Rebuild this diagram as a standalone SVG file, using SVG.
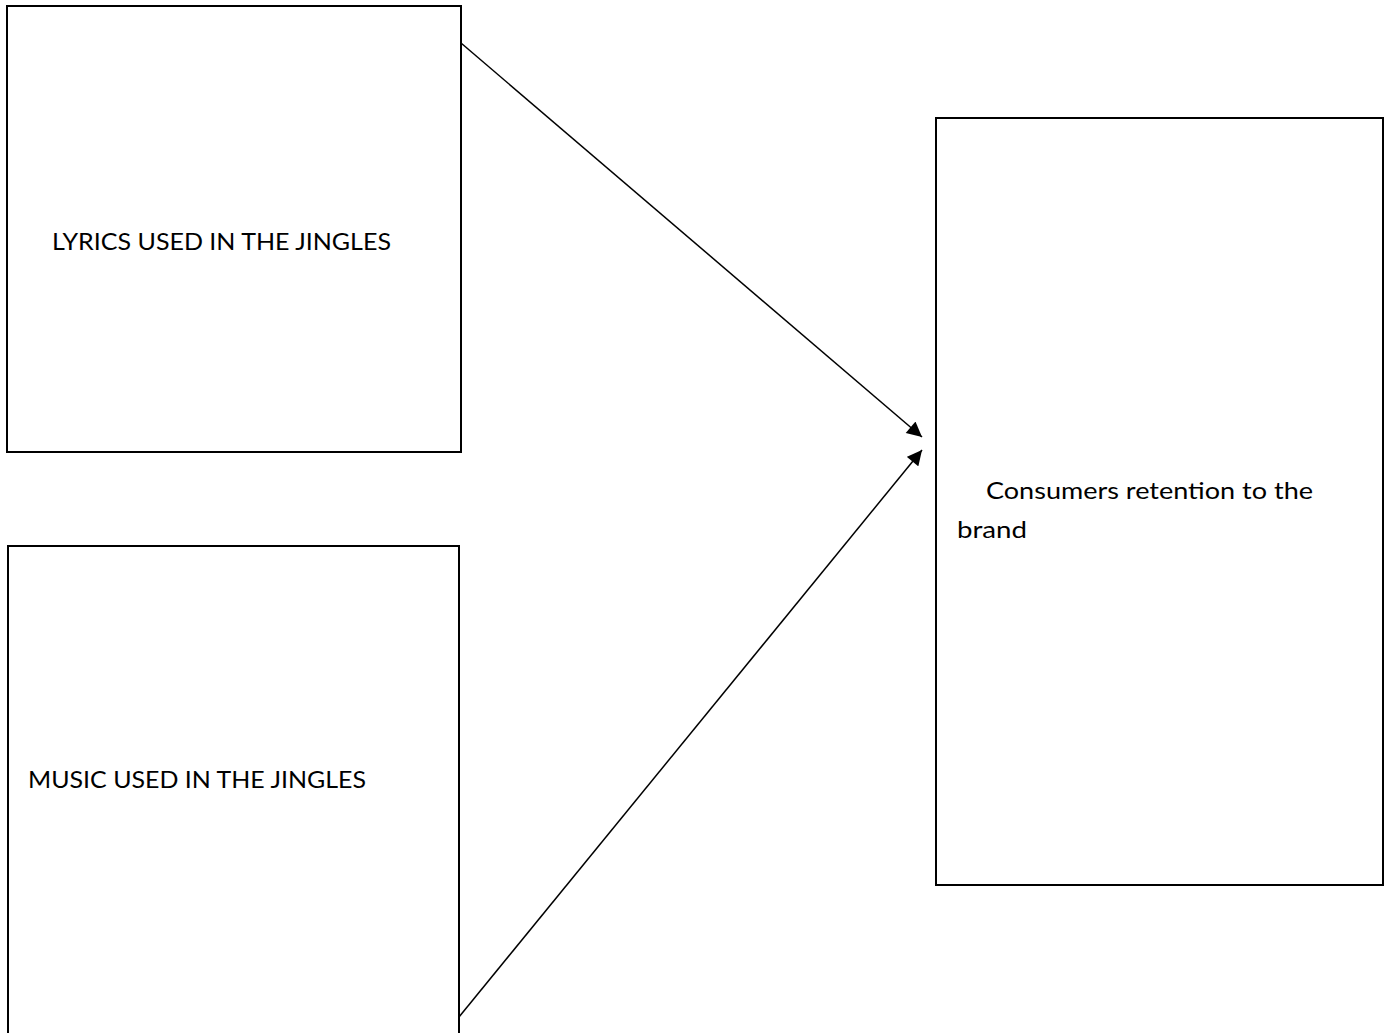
<svg xmlns="http://www.w3.org/2000/svg" width="1384" height="1033" viewBox="0 0 1384 1033">
<style>
.box{fill:#fff;stroke:#000;stroke-width:2}
.lbl{font-family:Lato,"Open Sans","Liberation Sans",sans-serif;font-size:23px;fill:#000}
.conn{stroke:#000;stroke-width:1.5;fill:none}
</style>
<defs>
<marker id="ah" viewBox="0 0 10 10" refX="10" refY="5" markerWidth="16" markerHeight="15" markerUnits="userSpaceOnUse" orient="auto">
<path d="M0,0 L10,5 L0,10 z" fill="#000"/>
</marker>
</defs>
<rect width="1384" height="1033" fill="#fff"/>
<g id="lyrics">
<rect class="box" x="7" y="6" width="454" height="446"/>
<text class="lbl" x="52" y="250" textLength="339" lengthAdjust="spacingAndGlyphs">LYRICS USED IN THE JINGLES</text>
</g>
<g id="music">
<rect class="box" x="8" y="546" width="451" height="500"/>
<text class="lbl" x="28" y="788" textLength="338" lengthAdjust="spacingAndGlyphs">MUSIC USED IN THE JINGLES</text>
</g>
<g id="retention">
<rect class="box" x="936" y="118" width="447" height="767"/>
<text class="lbl" x="986" y="499" textLength="327" lengthAdjust="spacingAndGlyphs">Consumers retention to the</text>
<text class="lbl" x="957" y="538" textLength="70" lengthAdjust="spacingAndGlyphs">brand</text>
</g>
<g id="connectors">
<line class="conn" x1="461" y1="43" x2="922" y2="437" marker-end="url(#ah)"/>
<line class="conn" x1="459" y1="1017" x2="922" y2="450" marker-end="url(#ah)"/>
</g>
</svg>
